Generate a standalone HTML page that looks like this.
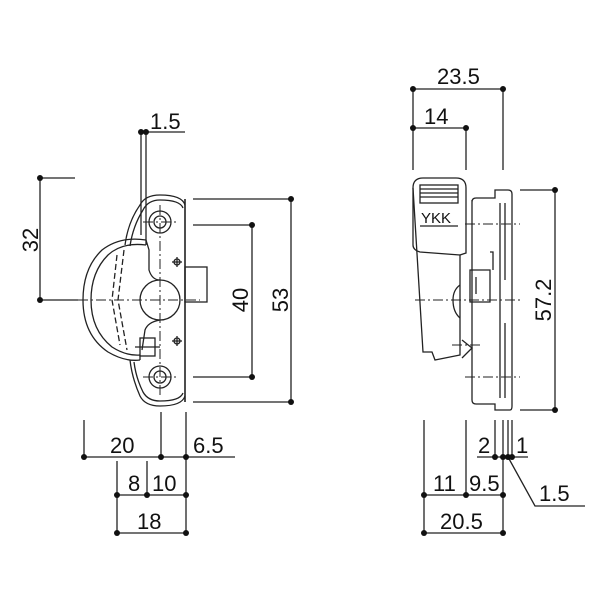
<!DOCTYPE html>
<html><head><meta charset="utf-8"><style>
html,body{margin:0;padding:0;background:#fff;width:600px;height:600px;overflow:hidden}
text{font-family:"Liberation Sans",sans-serif;font-size:22px;fill:#111}
</style></head><body>
<svg width="600" height="600" viewBox="0 0 600 600" xmlns="http://www.w3.org/2000/svg">
<g stroke="#222" stroke-width="1.3" fill="none">
<!-- LEFT VIEW dims -->
<line x1="141" y1="132" x2="185" y2="132"/>
<line x1="141" y1="132" x2="141" y2="172"/><line x1="146" y1="132" x2="146" y2="172"/>
<line x1="40" y1="178" x2="75" y2="178"/>
<line x1="40" y1="178" x2="40" y2="300"/>
<line x1="40" y1="300" x2="78" y2="300"/>
<line x1="193" y1="199" x2="291" y2="199"/><line x1="193" y1="402" x2="291" y2="402"/>
<line x1="291" y1="199" x2="291" y2="402"/>
<line x1="193" y1="225" x2="252" y2="225"/><line x1="193" y1="377" x2="252" y2="377"/>
<line x1="252" y1="225" x2="252" y2="377"/>
<!-- bottom left -->
<line x1="84" y1="420" x2="84" y2="457"/><line x1="161" y1="412" x2="161" y2="457"/><line x1="186" y1="412" x2="186" y2="533"/>
<line x1="84" y1="457" x2="235" y2="457"/>
<line x1="117" y1="461" x2="117" y2="533"/><line x1="147" y1="461" x2="147" y2="495"/>
<line x1="117" y1="495" x2="186" y2="495"/>
<line x1="117" y1="533" x2="186" y2="533"/>
<!-- left part -->
<path d="M146 172 L146 240"/><path d="M141 172 L141 235"/>
<path d="M185 199 L185 402" stroke-width="1.6"/>
<path d="M185 205 Q182 195 160 195 Q145 195 140 205 Q128 222 125 245"/>
<path d="M183 208 Q180 200 160 200 Q148 200 143 210 Q133 226 130 246"/>
<path d="M185 396 Q182 406 160 406 Q145 406 140 396 Q132 378 130 360"/>
<path d="M183 393 Q180 401 160 401 Q148 401 143 392 Q136 378 134 362"/>
<path d="M146 240 Q120 236 102 250 Q83 268 83 300 Q83 335 108 352 Q125 362 140 360"/>
<path d="M146 245 Q122 242 108 255 Q91 272 91 300 Q91 330 112 347 Q126 356 140 355"/>
<path d="M146 240 L146 245 M140 360 L140 355"/>
<path d="M117 255 L112 300 L120 345" stroke-dasharray="6 3"/>
<path d="M124 250 L118 300 L127 350" stroke-dasharray="6 3"/>
<path d="M146 240 L149 250 L149 270 Q152 280 160 280"/>
<path d="M160 320 Q148 322 145 330 L142 350"/>
<circle cx="160" cy="300" r="20"/>
<circle cx="160" cy="222" r="11"/><circle cx="160" cy="222" r="6"/>
<circle cx="160" cy="377" r="11"/><circle cx="160" cy="377" r="6"/>
<rect x="185" y="267" width="22" height="35"/>
<rect x="140" y="338" width="15" height="18"/>
<circle cx="177" cy="262" r="3"/><circle cx="177" cy="341" r="3"/>
<g stroke-dasharray="10 3 2 3" stroke-width="1">
<line x1="78" y1="300" x2="200" y2="300"/><line x1="160" y1="205" x2="160" y2="395"/>
<line x1="143" y1="222" x2="178" y2="222"/><line x1="143" y1="377" x2="178" y2="377"/>
</g>
<line x1="172" y1="262" x2="182" y2="262"/><line x1="177" y1="257" x2="177" y2="267"/>
<line x1="172" y1="341" x2="182" y2="341"/><line x1="177" y1="336" x2="177" y2="346"/>
<line x1="135" y1="347" x2="160" y2="347"/>

<!-- RIGHT VIEW dims -->
<line x1="413" y1="89" x2="503" y2="89"/><line x1="413" y1="128" x2="466" y2="128"/>
<line x1="413" y1="89" x2="413" y2="170"/><line x1="466" y1="128" x2="466" y2="170"/><line x1="503" y1="89" x2="503" y2="170"/>
<line x1="520" y1="190" x2="555" y2="190"/><line x1="520" y1="410" x2="555" y2="410"/>
<line x1="555" y1="190" x2="555" y2="410"/>
<!-- bottom right -->
<line x1="424" y1="420" x2="424" y2="533"/><line x1="466" y1="420" x2="466" y2="495"/>
<line x1="495" y1="420" x2="495" y2="457"/><line x1="503" y1="420" x2="503" y2="533"/>
<line x1="508" y1="420" x2="508" y2="457"/><line x1="512" y1="420" x2="512" y2="457"/>
<line x1="477" y1="457" x2="528" y2="457"/>
<line x1="424" y1="495" x2="503" y2="495"/><line x1="424" y1="533" x2="503" y2="533"/>
<path d="M508 457 L535 506 L585 506"/>
<!-- right part -->
<path d="M413 188 Q413 178 423 178 L456 178 Q466 178 466 188 L466 253 L460 255 L460 355 L435 360 L432 352 L423 352 Z"/>
<path d="M413 188 L413 245 Q413 250 420 252 L460 255"/>
<rect x="420" y="185" width="38" height="18"/>
<line x1="420" y1="189" x2="458" y2="189"/><line x1="420" y1="193" x2="458" y2="193"/><line x1="420" y1="197" x2="458" y2="197"/>
<line x1="420" y1="226" x2="458" y2="226"/>
<path d="M472 200 L472 400 Q472 404 476 404 L495 404 L495 410 L510 410 Q512 410 512 406 L512 194 Q512 190 508 190 L495 190 L495 198 L476 198 Q472 198 472 202"/>
<line x1="505" y1="203" x2="505" y2="280"/><line x1="505" y1="323" x2="505" y2="398"/>
<line x1="500" y1="203" x2="500" y2="398"/>
<path d="M470 270 L490 270 L490 302 L470 302 Z"/>
<path d="M490 252 L493 252 L493 270"/>
<path d="M460 285 Q453 290 453 300 Q453 312 460 318"/>
<line x1="476" y1="277" x2="476" y2="294"/>
<path d="M462 340 L472 348 L462 358"/>
<g stroke-dasharray="10 3 2 3" stroke-width="1">
<line x1="415" y1="300" x2="520" y2="300"/>
<line x1="465" y1="224" x2="520" y2="224"/><line x1="465" y1="377" x2="520" y2="377"/>
<line x1="452" y1="345" x2="480" y2="345"/>
</g>
</g>
<g fill="#111">
<circle cx="141" cy="132" r="3"/><circle cx="146" cy="132" r="3"/>
<circle cx="40" cy="178" r="3"/><circle cx="40" cy="300" r="3"/>
<circle cx="291" cy="199" r="3"/><circle cx="291" cy="402" r="3"/>
<circle cx="252" cy="225" r="3"/><circle cx="252" cy="377" r="3"/>
<circle cx="84" cy="457" r="3"/><circle cx="161" cy="457" r="3"/><circle cx="186" cy="457" r="3"/>
<circle cx="117" cy="495" r="3"/><circle cx="147" cy="495" r="3"/><circle cx="186" cy="495" r="3"/>
<circle cx="117" cy="533" r="3"/><circle cx="186" cy="533" r="3"/>
<circle cx="413" cy="89" r="3"/><circle cx="503" cy="89" r="3"/><circle cx="413" cy="128" r="3"/><circle cx="466" cy="128" r="3"/>
<circle cx="555" cy="190" r="3"/><circle cx="555" cy="410" r="3"/>
<circle cx="495" cy="457" r="3"/><circle cx="503" cy="457" r="3"/><circle cx="508" cy="457" r="3"/><circle cx="512" cy="457" r="3"/>
<circle cx="424" cy="495" r="3"/><circle cx="466" cy="495" r="3"/><circle cx="503" cy="495" r="3"/>
<circle cx="424" cy="533" r="3"/><circle cx="503" cy="533" r="3"/>
</g>
<text x="150" y="129">1.5</text>
<text transform="translate(38,240) rotate(-90)" text-anchor="middle">32</text>
<text transform="translate(248,300) rotate(-90)" text-anchor="middle">40</text>
<text transform="translate(288,300) rotate(-90)" text-anchor="middle">53</text>
<text x="110" y="453">20</text><text x="193" y="453">6.5</text>
<text x="128" y="491">8</text><text x="152" y="491">10</text>
<text x="137" y="529">18</text>
<text x="437" y="84">23.5</text><text x="424" y="124">14</text>
<text transform="translate(551,300) rotate(-90)" text-anchor="middle">57.2</text>
<text x="478" y="453">2</text><text x="516" y="453">1</text>
<text x="433" y="491">11</text><text x="469" y="491">9.5</text>
<text x="440" y="529">20.5</text><text x="539" y="501">1.5</text>
<text x="421" y="223" style="font-size:15px">YKK</text>
</svg>
</body></html>
